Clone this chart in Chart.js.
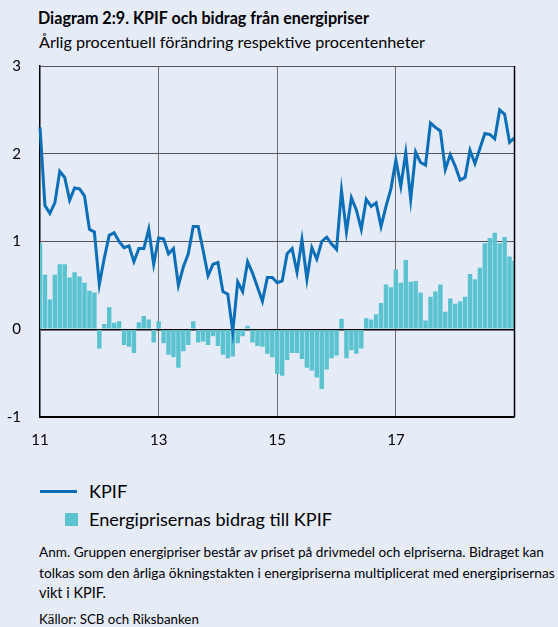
<!DOCTYPE html>
<html>
<head>
<meta charset="utf-8">
<script src="https://cdn.jsdelivr.net/npm/chart.js@4.4.1/dist/chart.umd.min.js"></script>
<style>
  html, body { margin:0; padding:0; background:#E6EBF8; }
  body { width:558px; height:627px; position:relative; overflow:hidden; font-family:"Lato","Open Sans",sans-serif; color:#000; }
  .t { position:absolute; white-space:nowrap; line-height:1; }
  #wrap { position:absolute; left:0; top:38px; width:558px; height:422px; }
</style>
</head>
<body>
<div class="t" id="title" style="left:38px; top:10px; font-size:14px; font-weight:bold;" data-w="331">Diagram 2:9. KPIF och bidrag från energipriser</div>
<div class="t" id="sub" style="left:39px; top:34px; font-size:15px;" data-w="386">Årlig procentuell förändring respektive procentenheter</div>
<div id="wrap"><canvas id="c" width="558" height="422"></canvas></div>
<div style="position:absolute; left:40px; top:490px; width:37px; height:3px; background:#0B6FB8;"></div>
<div class="t" id="lg1" style="left:89px; top:482px; font-size:16px;">KPIF</div>
<div style="position:absolute; left:65px; top:513px; width:13px; height:13px; background:#5BC3D0;"></div>
<div class="t" id="lg2" style="left:89px; top:510px; font-size:16px;" data-w="243">Energiprisernas bidrag till KPIF</div>
<div class="t" id="n1" style="left:39px; top:546px; font-size:12.5px;" data-w="505">Anm. Gruppen energipriser består av priset på drivmedel och elpriserna. Bidraget kan</div>
<div class="t" id="n2" style="left:39px; top:566px; font-size:12.5px;" data-w="516">tolkas som den årliga ökningstakten i energipriserna multiplicerat med energiprisernas</div>
<div class="t" id="n3" style="left:39px; top:586px; font-size:12.5px;" data-w="67">vikt i KPIF.</div>
<div class="t" id="n4" style="left:39px; top:613px; font-size:12.5px;" data-w="160">Källor: SCB och Riksbanken</div>
<script>
// Monthly categories Jan 2011 .. Jan 2019
const categories = [];
for (let y = 2011; y <= 2019; y++) {
  for (let m = 1; m <= 12; m++) {
    if (y === 2019 && m > 1) break;
    categories.push(y + '-' + String(m).padStart(2, '0'));
  }
}
const kpif = [
  2.30,1.41,1.32,1.44,1.80,1.73,1.47,1.61,1.60,1.52,1.14,1.11,
  0.51,0.81,1.07,1.10,1.00,0.93,0.95,0.77,0.92,0.92,1.14,0.74,
  1.04,1.03,0.86,0.92,0.50,0.71,0.86,1.17,1.17,0.90,0.61,0.74,
  0.76,0.43,0.40,-0.03,0.54,0.43,0.77,0.64,0.48,0.32,0.59,0.59,
  0.53,0.55,0.86,0.92,0.65,1.02,0.57,0.93,0.80,1.00,1.05,0.97,
  0.91,1.58,1.11,1.50,1.36,1.14,1.48,1.40,1.44,1.17,1.40,1.60,
  1.93,1.63,2.01,1.48,2.02,1.90,1.87,2.35,2.30,2.26,1.82,1.99,
  1.86,1.70,1.73,2.04,1.89,2.06,2.23,2.22,2.17,2.50,2.45,2.13,
  2.18
];
const energi = [
  0.98,0.62,0.34,0.62,0.74,0.74,0.59,0.65,0.60,0.53,0.44,0.42,
  -0.22,0.06,0.25,0.075,0.09,-0.18,-0.20,-0.27,0.08,0.15,0.11,-0.15,
  0.09,-0.16,-0.29,-0.32,-0.44,-0.25,-0.18,0.09,-0.15,-0.14,-0.18,-0.08,
  -0.19,-0.29,-0.33,-0.31,-0.16,-0.08,0.04,-0.15,-0.19,-0.20,-0.28,-0.32,
  -0.51,-0.53,-0.35,-0.27,-0.27,-0.34,-0.44,-0.47,-0.55,-0.68,-0.46,-0.33,
  -0.30,0.12,-0.33,-0.24,-0.28,-0.22,0.125,0.11,0.17,0.30,0.51,0.48,
  0.68,0.53,0.79,0.54,0.55,0.42,0.10,0.37,0.43,0.51,0.20,0.35,
  0.29,0.32,0.37,0.63,0.57,0.70,0.98,1.04,1.10,0.98,1.05,0.83,
  0.78
];
const xTickMonths = ['2011-01','2013-01','2015-01','2017-01'];
const xTickLabels = ['11','13','15','17'];
const yTicks = [-1,0,1,2,3];

const lineData = kpif.map((v,i)=>({x:i,y:v}));
const barData = energi.map((v,i)=>({x:i,y:v}));
const tickIdx = xTickMonths.map(m => categories.indexOf(m));

const rightBorder = {
  id:'rightBorder',
  afterDatasetsDraw(chart){
    const a = chart.chartArea, ctx = chart.ctx;
    ctx.save();
    ctx.strokeStyle = '#000'; ctx.lineWidth = 1.5;
    ctx.beginPath(); ctx.moveTo(a.right, a.top); ctx.lineTo(a.right, a.bottom); ctx.stroke();
    ctx.restore();
  }
};

const chart = new Chart(document.getElementById('c'), {
  data: {
    datasets: [
      { type:'line', label:'KPIF', data: lineData, borderColor:'#0B6FB8', borderWidth:3,
        pointRadius:0, tension:0, fill:false, order:0, clip:false },
      { type:'bar', label:'Energiprisernas bidrag till KPIF', data: barData,
        backgroundColor:'#5BC3D0', borderWidth:0, barPercentage:0.9, categoryPercentage:1, order:1 }
    ]
  },
  options: {
    responsive:false, animation:false,
    layout:{ padding:{ top:10, right:43.5, left:0, bottom:0 } },
    plugins:{ legend:{display:false}, tooltip:{enabled:false} },
    scales:{
      x:{
        type:'linear', min:0, max:categories.length-1, offset:false,
        afterBuildTicks(s){ s.ticks = tickIdx.map(v=>({value:v})); },
        afterFit(s){ s.height = 43; },
        ticks:{ callback:(v)=>{ const k = tickIdx.indexOf(v); return k>=0 ? xTickLabels[k] : ''; },
          font:{family:'Lato', size:15}, color:'#000', padding:14, maxRotation:0, autoSkip:false },
        grid:{ offset:false, color:(c)=> c.index===0 ? 'rgba(0,0,0,0)' : '#6E6E6E', lineWidth:1, drawTicks:false },
        border:{ display:true, color:'#000', width:1.5 }
      },
      y:{
        min:-1, max:3,
        afterBuildTicks(s){ s.ticks = yTicks.map(v=>({value:v})); },
        afterFit(s){ s.width = 40; },
        ticks:{ font:{family:'Lato', size:15}, color:'#000', padding:19 },
        grid:{ color:(c)=> c.tick && (c.tick.value===0 || c.tick.value===-1) ? '#000' : '#555',
               lineWidth:(c)=> c.tick && c.tick.value===0 ? 1.5 : 1, drawTicks:false },
        border:{ display:true, color:'#000', width:1.5 }
      }
    }
  },
  plugins:[rightBorder]
});

// fit text widths to the reference
document.querySelectorAll('[data-w]').forEach(el=>{
  const t = parseFloat(el.dataset.w);
  const w = el.getBoundingClientRect().width;
  const fs = parseFloat(el.style.fontSize);
  el.style.fontSize = (fs * t / w).toFixed(2) + 'px';
});
document.getElementById('lg1').style.fontSize = document.getElementById('lg2').style.fontSize;
</script>
</body>
</html>
